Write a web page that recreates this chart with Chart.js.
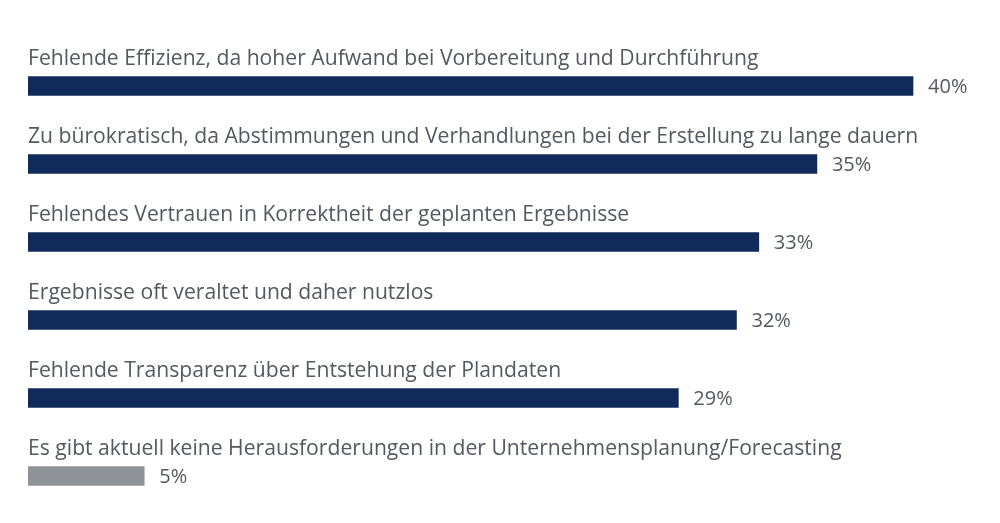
<!DOCTYPE html>
<html>
<head>
<meta charset="utf-8">
<script src="https://cdn.jsdelivr.net/npm/chart.js@4.4.0/dist/chart.umd.js"></script>
<style>
  body { margin: 0; background: #ffffff; }
  .chart-container { position: relative; width: 1000px; height: 523px; }
</style>
</head>
<body>
<div class="chart-container">
  <canvas id="chart"></canvas>
</div>
<script>
// Data
const categories = [
  'Fehlende Effizienz, da hoher Aufwand bei Vorbereitung und Durchführung',
  'Zu bürokratisch, da Abstimmungen und Verhandlungen bei der Erstellung zu lange dauern',
  'Fehlendes Vertrauen in Korrektheit der geplanten Ergebnisse',
  'Ergebnisse oft veraltet und daher nutzlos',
  'Fehlende Transparenz über Entstehung der Plandaten',
  'Es gibt aktuell keine Herausforderungen in der Unternehmensplanung/Forecasting',
];
const values = [39.6, 35.3, 32.7, 31.7, 29.1, 5.2];
const valueLabels = ['40%', '35%', '33%', '32%', '29%', '5%'];

const NAVY = '#112a5c';
const GREY = '#8f9296';
const TEXT = '#54585f';

// Draw category names above the bars and the percentages to the right
const barLabels = {
  id: 'barLabels',
  afterDatasetsDraw(chart) {
    const {ctx, chartArea} = chart;
    const meta = chart.getDatasetMeta(0);
    ctx.save();
    ctx.fillStyle = TEXT;
    meta.data.forEach((bar, i) => {
      const top = bar.y - bar.height / 2;
      ctx.font = '21.15px "Open Sans"';
      ctx.textAlign = 'left';
      ctx.textBaseline = 'alphabetic';
      ctx.fillText(categories[i], chartArea.left, top - 12);

      ctx.font = '20px "Open Sans"';
      ctx.textBaseline = 'middle';
      ctx.fillText(valueLabels[i], bar.x + 15, bar.y + 1);
    });
    ctx.restore();
  },
};

new Chart(document.getElementById('chart'), {
  type: 'bar',
  data: {
    labels: categories,
    datasets: [{
      data: values,
      backgroundColor: values.map((_, i) => (i === values.length - 1 ? GREY : NAVY)),
      borderWidth: 0,
      barThickness: 19,
    }],
  },
  options: {
    indexAxis: 'y',
    responsive: true,
    maintainAspectRatio: false,
    animation: false,
    layout: {padding: {left: 28, right: 11, top: 47, bottom: 8}},
    plugins: {
      legend: {display: false},
      tooltip: {enabled: false},
    },
    scales: {
      x: {display: false, min: 0, max: 43},
      y: {display: false},
    },
  },
  plugins: [barLabels],
});
</script>
</body>
</html>
